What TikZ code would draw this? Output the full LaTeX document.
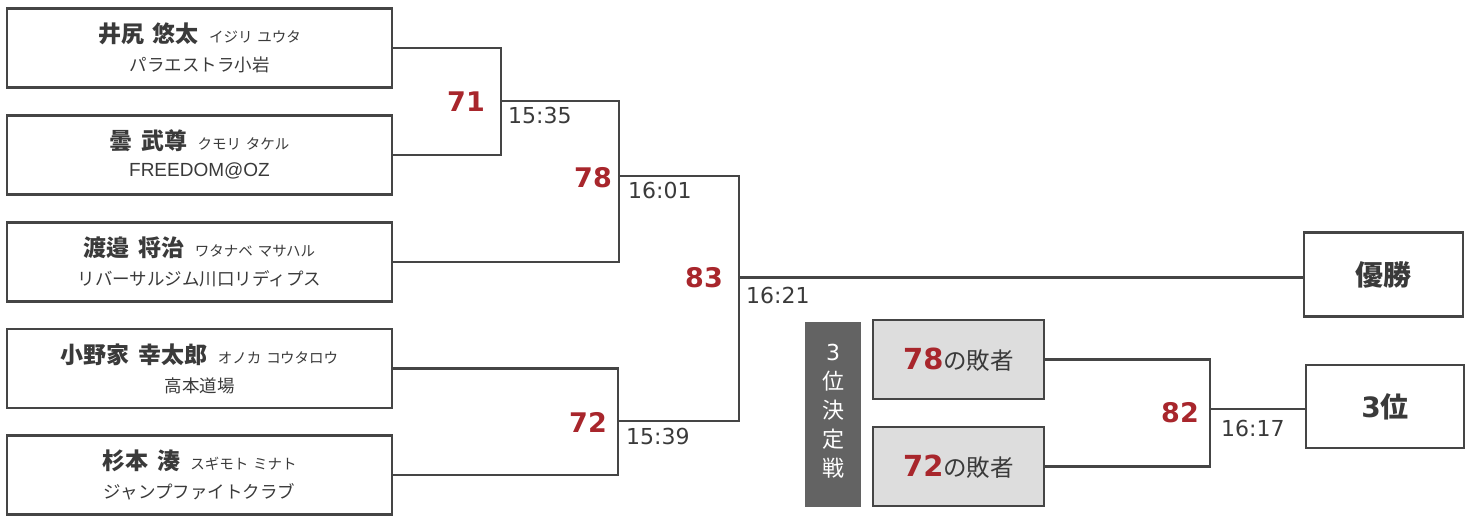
\documentclass[tikz,border=0pt]{standalone}
\usepackage{fontspec}
\setmainfont{Noto Sans CJK JP}
\newfontfamily\numfont{DejaVu Sans}
\newfontfamily\latfont{Liberation Sans}
\definecolor{ink}{HTML}{3A3A3A}
\definecolor{wirecol}{HTML}{454545}
\definecolor{scorered}{HTML}{A8262C}
\definecolor{barfill}{HTML}{636363}
\definecolor{loserfill}{HTML}{DDDDDD}
\begin{document}
\begin{tikzpicture}[x=1pt,y=-1pt,
  entrybox/.style={draw=wirecol,line width=2.4pt,minimum width=385pt,minimum height=79pt,inner sep=0pt},
  resultbox/.style={draw=wirecol,line width=2.4pt,minimum width=158pt,minimum height=84pt,inner sep=0pt,
    text=ink,font=\bfseries\fontsize{28}{30}\selectfont},
  loserbox/.style={draw=wirecol,fill=loserfill,line width=2.4pt,minimum width=171pt,minimum height=79pt,inner sep=0pt,
    text=ink,font=\fontsize{23.5}{25}\selectfont},
  wire/.style={draw=wirecol,line width=2.4pt},
  nametext/.style={text=ink,inner sep=0pt,font=\bfseries\fontsize{23}{26}\selectfont},
  teamtext/.style={text=ink,inner sep=0pt,font=\fontsize{17.5}{20}\selectfont},
  score/.style={text=scorered,inner sep=0pt,anchor=east,font=\numfont\bfseries\fontsize{27}{27}\selectfont},
  timetext/.style={text=ink,inner sep=0pt,anchor=north west,font=\numfont\fontsize{22}{22}\selectfont}]
\useasboundingbox (0,0) rectangle (1465,515);

\newcommand{\kanapart}[1]{{\mdseries\fontsize{14.5}{16}\selectfont #1}}

% entry boxes
\node[entrybox] (b1) at (199.5,48) {};
\node[entrybox] (b2) at (199.5,155) {};
\node[entrybox] (b3) at (199.5,262) {};
\node[entrybox] (b4) at (199.5,368.5) {};
\node[entrybox] (b5) at (199.5,475) {};

\node[nametext] (b1n) at ([yshift=14pt]b1.center) {井尻\hspace{9pt}悠太\hspace{10pt}\kanapart{イジリ\hspace{5pt}ユウタ}};
\node[teamtext] (b1t) at ([yshift=-17pt]b1.center) {パラエストラ小岩};
\node[nametext] (b2n) at ([yshift=14pt]b2.center) {曇\hspace{9pt}武尊\hspace{10pt}\kanapart{クモリ\hspace{5pt}タケル}};
\node[teamtext,font=\latfont\fontsize{19}{20}\selectfont] (b2t) at ([yshift=-16pt]b2.center) {FREEDOM@OZ};
\node[nametext] (b3n) at ([yshift=14pt]b3.center) {渡邉\hspace{9pt}将治\hspace{10pt}\kanapart{ワタナベ\hspace{5pt}マサハル}};
\node[teamtext] (b3t) at ([yshift=-17pt]b3.center) {リバーサルジム川口リディプス};
\node[nametext] (b4n) at ([yshift=14pt]b4.center) {小野家\hspace{9pt}幸太郎\hspace{10pt}\kanapart{オノカ\hspace{5pt}コウタロウ}};
\node[teamtext] (b4t) at ([yshift=-17pt]b4.center) {高本道場};
\node[nametext] (b5n) at ([yshift=14pt]b5.center) {杉本\hspace{9pt}湊\hspace{10pt}\kanapart{スギモト\hspace{5pt}ミナト}};
\node[teamtext] (b5t) at ([yshift=-17pt]b5.center) {ジャンプファイトクラブ};

% result boxes
\node[resultbox,minimum width=159pt] (win) at (1383.5,274.5) {優勝};
\node[resultbox,minimum height=83pt] (third) at (1385,406.5) {{\numfont 3}位};

% third place playoff
\node[fill=barfill,minimum width=56pt,minimum height=185pt,inner sep=0pt] (bar) at (833,414.5) {};
\node[text=white,align=center,inner sep=0pt,font=\fontsize{22}{29}\selectfont] (bartext) at (833,411) {{\numfont 3}\\位\\決\\定\\戦};
\node[loserbox] (l1) at (958.5,359.5) {{\numfont\bfseries\color{scorered}\fontsize{29}{29}\selectfont 78}の敗者};
\node[loserbox] (l2) at (958.5,466.5) {{\numfont\bfseries\color{scorered}\fontsize{29}{29}\selectfont 72}の敗者};

% junctions
\coordinate (m1) at (501,101);
\coordinate (m2) at (619,176);
\coordinate (m3) at (739,277.5);
\coordinate (m4) at (618,421);
\coordinate (m5) at (1210,409);

\draw[wire] (b1.east) -| (m1) |- (b2.east);
\draw[wire] (m1) -| (m2) |- (b3.east);
\draw[wire] (b4.east) -| (m4) |- (b5.east);
\draw[wire] (m2) -| (m3) |- (m4);
\draw[wire] (m3) -- (m3 -| win.west);
\draw[wire] (l1.east) -| (m5) |- (l2.east);
\draw[wire] (m5) -- (m5 -| third.west);

% scores
\node[score] (s71) at (485,102) {71};
\node[score] (s78) at (612,178) {78};
\node[score] (s83) at (723,278) {83};
\node[score] (s72) at (607,422) {72};
\node[score] (s82) at (1199,413) {82};

% times
\node[timetext] (t1) at (508,107) {15:35};
\node[timetext] (t2) at (628,182) {16:01};
\node[timetext] (t3) at (746,287) {16:21};
\node[timetext] (t4) at (626,428) {15:39};
\node[timetext] (t5) at (1221,420) {16:17};
\end{tikzpicture}
\end{document}
